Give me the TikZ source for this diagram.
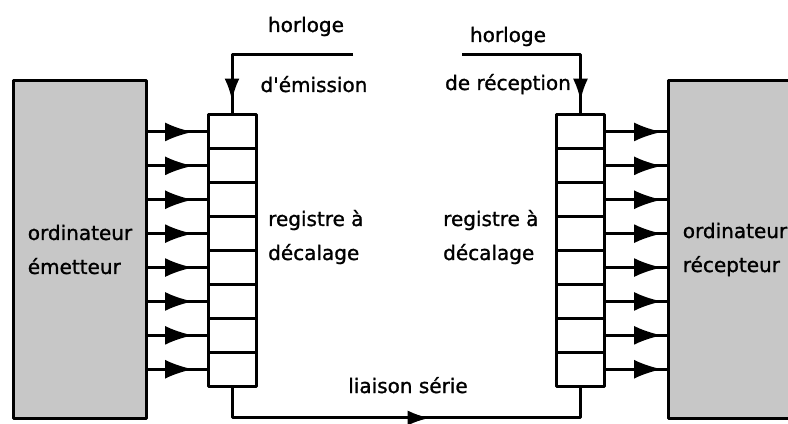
\documentclass[tikz,border=0pt]{standalone}
\usepackage{fontspec}
\setmainfont{DejaVu Sans}[FakeBold=1.2]
\usepackage{xcolor}
\usetikzlibrary{%
arrows.meta,
decorations.markings,
positioning}

\definecolor{boxgray}{rgb}{0.78,0.78,0.78}

\tikzset{
  bigTip/.tip={Latex[length=28bp,width=19bp]},
  smallTip/.tip={Latex[length=22bp,width=15bp]},
}

\begin{document}
\begin{tikzpicture}[>=latex,line join=bevel,x=1bp,y=1bp,
  computer/.style={draw,fill=boxgray,line width=3bp,inner sep=0pt,
    minimum width=133bp,minimum height=338bp,anchor=south west,
    align=left,font=\fontsize{20bp}{34bp}\selectfont},
  cell/.style={draw,line width=3bp,inner sep=0pt,outer sep=0pt,
    minimum width=48bp,minimum height=33.9bp},
  wire/.style={line width=3bp},
  caption/.style={inner sep=0pt,align=left,font=\fontsize{20bp}{34bp}\selectfont},
  tipat/.style 2 args={postaction={decorate},decoration={markings,
    mark=at position #1 with {\arrow{#2}}}},
]
\useasboundingbox (0bp,0bp) rectangle (788bp,424bp);
%%
  % Node: emitComputer
  \node[computer] (emitComputer) at (12bp,4bp) {ordinateur\\émetteur};
  % Node: recvComputer
  \node[computer] (recvComputer) at (667bp,4bp) {ordinateur\\récepteur};
  % Node: emitReg, recvReg
  \foreach \i in {1,...,8} {
    \node[cell] (emitReg\i) at (232bp,{292.05-33.9*(\i-1)}) {};
    \node[cell] (recvReg\i) at (580.5bp,{292.05-33.9*(\i-1)}) {};
  }
  \node[caption,anchor=base west] (emitRegText) at (268bp,164bp) {registre à\\décalage};
  \node[caption,anchor=base west] (recvRegText) at (443bp,164bp) {registre à\\décalage};
  % Node: clocks
  \coordinate (emitClock) at (353bp,369bp);
  \coordinate (recvClock) at (462bp,369bp);
  \node[caption,anchor=base] (emitClockTop) at (306bp,392bp) {horloge};
  \node[caption,anchor=base] (emitClockBot) at (314bp,332bp) {d\textquotesingle émission};
  \node[caption,anchor=base] (recvClockTop) at (508bp,382bp) {horloge};
  \node[caption,anchor=base] (recvClockBot) at (508bp,334bp) {de réception};
  % Node: serialLink
  \coordinate (serialLow) at (408bp,6bp);
  \node[caption,anchor=base] (serialText) at (408bp,31bp) {liaison série};
%
  % Edge: emitComputer -> emitReg
  \foreach \i in {1,...,8}
    \draw[wire,tipat={0.75}{bigTip}] (emitComputer.east |- emitReg\i) -- (emitReg\i.west);
  % Edge: recvReg -> recvComputer
  \foreach \i in {1,...,8}
    \draw[wire,tipat={0.92}{bigTip}] (recvReg\i.east) -- (recvComputer.west |- recvReg\i);
  % Edge: emitClock -> emitReg1
  \draw[wire,tipat={0.92}{smallTip}] (emitClock) -| (emitReg1.north);
  % Edge: recvClock -> recvReg1
  \draw[wire,tipat={0.92}{smallTip}] (recvClock) -| (recvReg1.north);
  % Edge: emitReg8 -> recvReg8
  \draw[wire,tipat={0.557}{smallTip}] (emitReg8.south) |- (serialLow) -| (recvReg8.south);
%
\end{tikzpicture}
\end{document}
